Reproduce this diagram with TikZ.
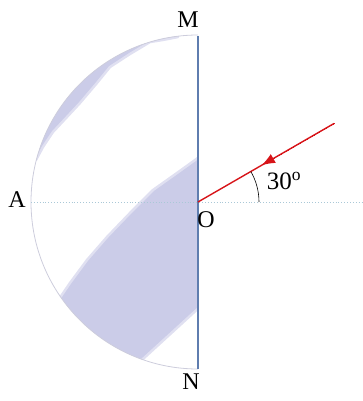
\documentclass[tikz,border=0pt]{standalone}
\usepackage{fontspec}
\setmainfont{Liberation Serif}
\usetikzlibrary{arrows.meta}
\definecolor{lav}{RGB}{203,204,232}
\definecolor{rim}{RGB}{205,205,220}
\definecolor{mirror}{RGB}{95,125,175}
\definecolor{dotc}{RGB}{170,200,215}
\definecolor{ray}{RGB}{215,20,25}
\tikzset{
  lbl/.style={font=\fontsize{24}{24}\selectfont, inner sep=0pt},
  shadefill/.style={fill=lav, draw=lav!60, line width=2.5pt, line join=round},
  rayline/.style={draw=ray, line width=1.4pt},
}
\begin{document}
\begin{tikzpicture}[x=1pt,y=1pt]
\useasboundingbox (-198,-199) rectangle (165,202);
\coordinate (O) at (0,0);
\coordinate (Mt) at (0,166);
\coordinate (Nb) at (0,-167);
\coordinate (Aend) at (-167,0);
\coordinate (Rend) at (165,0);
\coordinate (R) at (136,78.5);
\coordinate (Rmid) at (64,37);
\coordinate (Ang0) at (61,0);
% shaded regions
\begin{scope}
\clip (0,167) arc[start angle=90,end angle=270,radius=167] -- cycle;
\path[shadefill] (-20,172) -- (-20,165) .. controls (-35,162) .. (-48,160)
  -- (-68,148) -- (-88,135) -- (-101,119) -- (-118,99) -- (-131,85)
  -- (-145,70) -- (-155,55) -- (-162,42) -- (-180,42) -- (-180,180) -- cycle;
\path[shadefill] (4,47) -- (-21,29) -- (-45,12) -- (-68,-11) -- (-91,-35)
  -- (-111,-58) -- (-128,-81) -- (-143,-103) -- (-158,-128)
  -- (-78,-178) -- (4,-103) -- cycle;
\end{scope}
\draw[rim, line width=0.8pt] (0,167) arc[start angle=90,end angle=270,radius=167];
% dotted axis
\draw[dotc, dotted, line width=0.9pt] (Aend) -- (Rend);
% mirror
\draw[mirror, line width=1.6pt] (Mt) -- (Nb);
% ray
\draw[rayline] (R) -- (O);
\draw[ray, line width=0pt, -{Latex[length=13pt,width=10pt]}] (R) -- (Rmid);
% angle arc
\draw[line width=0.6pt] (Ang0) arc[start angle=0,end angle=30,radius=61];
% labels
\node[lbl] (M) at (-10,182) {M};
\node[lbl] (N) at (-7,-180) {N};
\node[lbl] (A) at (-181,2) {A};
\node[lbl] (Ol) at (8,-18) {O};
\node[lbl, font=\fontsize{25}{25}\selectfont] (ang) at (86,21) {30\textsuperscript{o}};
\end{tikzpicture}
\end{document}
